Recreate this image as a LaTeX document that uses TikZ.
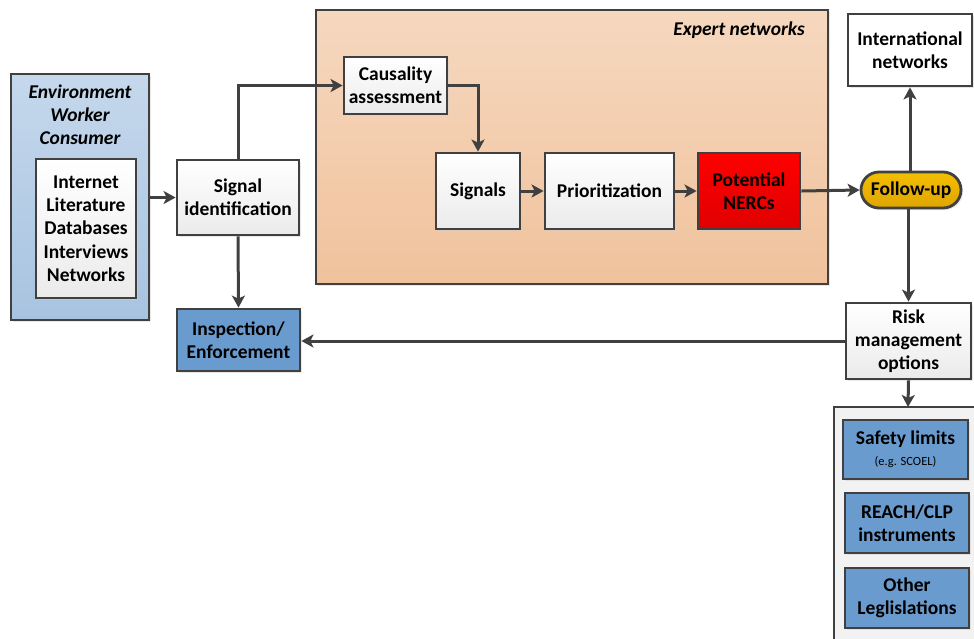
\documentclass[tikz,border=0pt]{standalone}
\usepackage{fontspec}
\setmainfont{Carlito}
\usetikzlibrary{arrows.meta,shadows}
\definecolor{ln}{HTML}{404040}
\definecolor{peachT}{HTML}{F6D8BF}
\definecolor{peachB}{HTML}{F0C29C}
\definecolor{lbT}{HTML}{C5D8EC}
\definecolor{lbB}{HTML}{A8C3E0}
\definecolor{midblue}{HTML}{6A9BCF}
\definecolor{amber}{HTML}{F2B300}
\tikzset{
  base/.style={draw=ln, line width=2.8pt, inner sep=0pt, align=center,
    font=\fontsize{19.5}{23}\selectfont\bfseries,
    drop shadow={shadow xshift=2pt, shadow yshift=-2pt, fill=black!18}},
  wbox/.style={base, top color=white, bottom color=black!8},
  bbox/.style={base, fill=midblue},
  rbox/.style={base, top color=red, bottom color=red!88!black},
  conn/.style={draw=ln, line width=3pt, -{Stealth[length=12pt,width=13pt,inset=3pt]}},
}
\begin{document}
\begin{tikzpicture}[x=1pt,y=-1pt]
\useasboundingbox (0,0) rectangle (974,638);
% Expert networks panel
\node[base, top color=peachT, bottom color=peachB, minimum width=512, minimum height=274] (exp) at (572,147) {};
\node[anchor=east, font=\fontsize{19.5}{23}\selectfont\bfseries\itshape, inner sep=0pt] (explab) at (805,30) {Expert networks};
% left panel
\node[base, top color=lbT, bottom color=lbB, minimum width=138, minimum height=246] (env) at (80,197) {};
\node[font=\fontsize{19.5}{23}\selectfont\bfseries\itshape, align=center, inner sep=0pt] (envlab) at (80,115) {Environment\\Worker\\Consumer};
\node[wbox, minimum width=100, minimum height=139, font=\fontsize{19.5}{23.3}\selectfont\bfseries] (src) at (86,228.5) {Internet\\Literature\\Databases\\Interviews\\Networks};
% main nodes
\node[wbox, minimum width=122, minimum height=75] (sig) at (238,197.5) {Signal\\identification};
\node[bbox, minimum width=123, minimum height=62] (insp) at (238.5,340) {Inspection/\\Enforcement};
\node[wbox, minimum width=103, minimum height=57] (caus) at (395.5,85.5) {Causality\\assessment};
\node[wbox, minimum width=84, minimum height=76] (sgn) at (478,191) {Signals};
\node[wbox, minimum width=129, minimum height=76] (prio) at (609.5,191) {Prioritization};
\node[rbox, minimum width=102, minimum height=76] (nerc) at (749,191) {Potential\\NERCs};
\node[base, fill=white, minimum width=124, minimum height=72] (intl) at (910,50) {International\\networks};
\node[base, top color=amber!85!yellow, bottom color=amber!92!black, rounded corners=18pt, minimum width=100, minimum height=36] (fup) at (911,190) {Follow-up};
\node[wbox, minimum width=125, minimum height=76] (risk) at (908.5,341) {Risk\\management\\options};
% bottom container
\fill[black!5] (834,407) rectangle (990,660);
\draw[ln, line width=2.8pt] (990,407) -- (834,407) -- (834,660);
\coordinate (cont) at (908,407);
\node[bbox, minimum width=125, minimum height=59] (safe) at (905.5,449.5) {Safety limits\\[-2pt]{\fontsize{12.5}{14}\selectfont\mdseries (e.g. SCOEL)}};
\node[bbox, minimum width=124, minimum height=60] (reach) at (907,523) {REACH/CLP\\instruments};
\node[bbox, minimum width=124, minimum height=60] (other) at (907,598) {Other\\Leglislations};
% connectors
\draw[conn] (env.east |- sig.west) -- (sig.west);
\draw[conn] (sig.north) |- (caus.west);
\draw[conn] (sig.south) -- (insp.north);
\draw[conn] (caus.east) -| (sgn.north);
\draw[conn] (sgn.east) -- (prio.west);
\draw[conn] (prio.east) -- (nerc.west);
\draw[conn] (nerc.east) -- (fup.west);
\draw[conn] (fup.north -| intl.south) -- (intl.south);
\draw[conn] (fup.south -| risk.north) -- (risk.north);
\draw[conn] (risk.west) -- (insp.east |- risk.west);
\draw[conn] (risk.south) -- (cont);
\end{tikzpicture}
\end{document}
